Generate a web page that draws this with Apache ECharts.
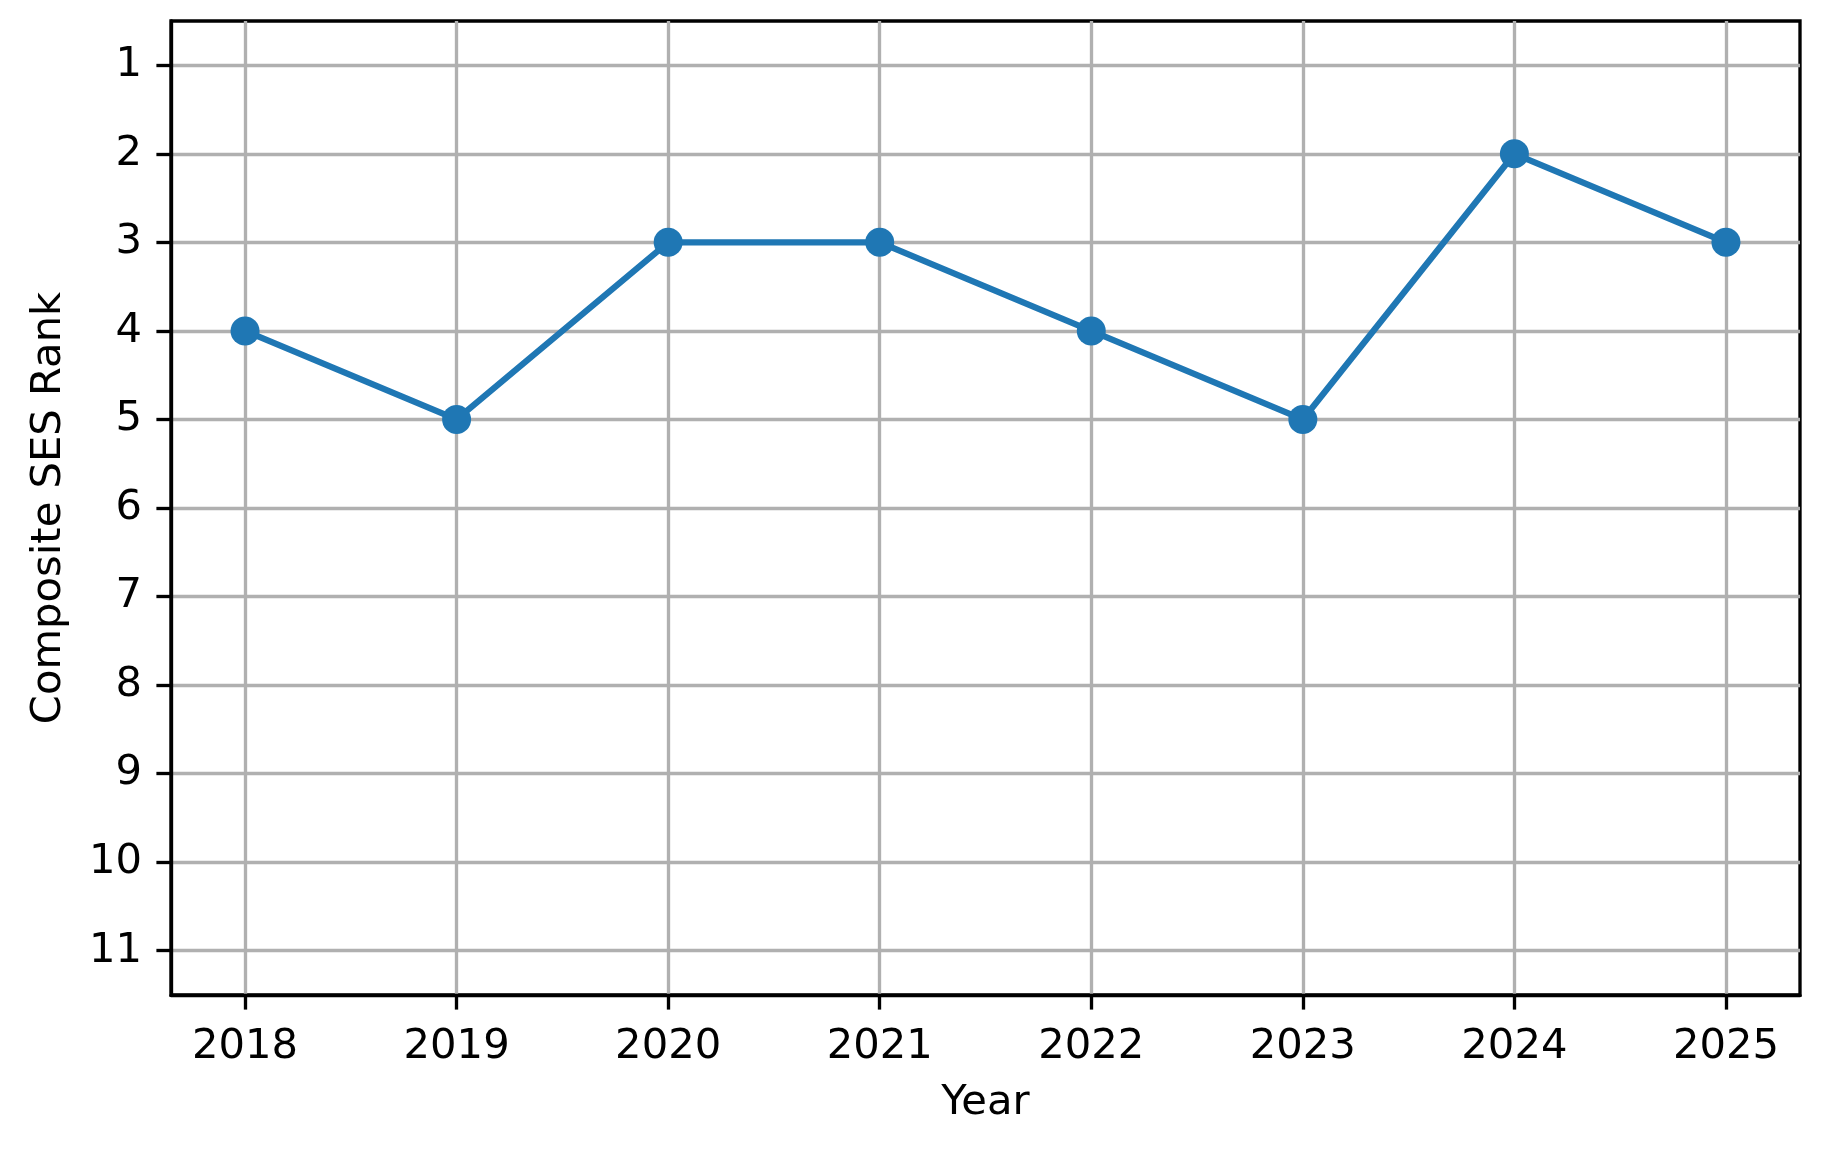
<!DOCTYPE html>
<html>
<head>
<meta charset="utf-8">
<script src="https://cdn.jsdelivr.net/npm/echarts@6/dist/echarts.min.js"></script>
<style>
html,body{margin:0;padding:0;background:#fff;}
#chart{width:1829px;height:1155px;}
</style>
</head>
<body>
<div id="chart"></div>
<script>
const years = [2018, 2019, 2020, 2021, 2022, 2023, 2024, 2025];
const ranks = [4, 5, 3, 3, 4, 5, 2, 3];
const rankTicks = [1, 2, 3, 4, 5, 6, 7, 8, 9, 10, 11];
const xLabel = 'Year';
const yLabel = 'Composite SES Rank';

const FONT = 'DejaVu Sans';
const FS = 41.7;
const LW = 3.33;
const chart = echarts.init(document.getElementById('chart'), null, {renderer: 'canvas'});
chart.setOption({
  animation: false,
  backgroundColor: '#ffffff',
  grid: {
    left: 171, right: 29, top: 21, bottom: 160,
    show: true, borderColor: '#000', borderWidth: LW, backgroundColor: 'transparent'
  },
  xAxis: {
    type: 'value',
    min: 2017.65, max: 2025.35,
    name: xLabel, nameLocation: 'middle', nameGap: 87,
    nameTextStyle: {fontFamily: FONT, fontSize: FS, color: '#000'},
    axisLine: {show: true, onZero: false, lineStyle: {color: '#000', width: LW}},
    axisTick: {show: true, length: 14.6, lineStyle: {color: '#000', width: LW}, customValues: years},
    axisLabel: {margin: 31, fontFamily: FONT, fontSize: FS, color: '#000', customValues: years,
      formatter: v => String(v)},
    splitLine: {show: true, lineStyle: {color: '#b0b0b0', width: LW}}
  },
  yAxis: {
    type: 'value',
    inverse: true,
    min: 0.5, max: 11.5,
    name: yLabel, nameLocation: 'middle', nameGap: 101, nameRotate: 90,
    nameTextStyle: {fontFamily: FONT, fontSize: FS, color: '#000'},
    axisLine: {show: true, onZero: false, lineStyle: {color: '#000', width: LW}},
    axisTick: {show: true, length: 14.6, lineStyle: {color: '#000', width: LW}, customValues: rankTicks},
    axisLabel: {margin: 29, fontFamily: FONT, fontSize: FS, color: '#000', customValues: rankTicks,
      formatter: v => String(v)},
    splitLine: {show: true, lineStyle: {color: '#b0b0b0', width: LW}}
  },
  series: [{
    type: 'line',
    data: years.map((y, i) => [y, ranks[i]]),
    symbol: 'circle',
    symbolSize: 29,
    lineStyle: {color: '#1f77b4', width: 6.25},
    itemStyle: {color: '#1f77b4'},
    z: 5
  }]
});
</script>
</body>
</html>
